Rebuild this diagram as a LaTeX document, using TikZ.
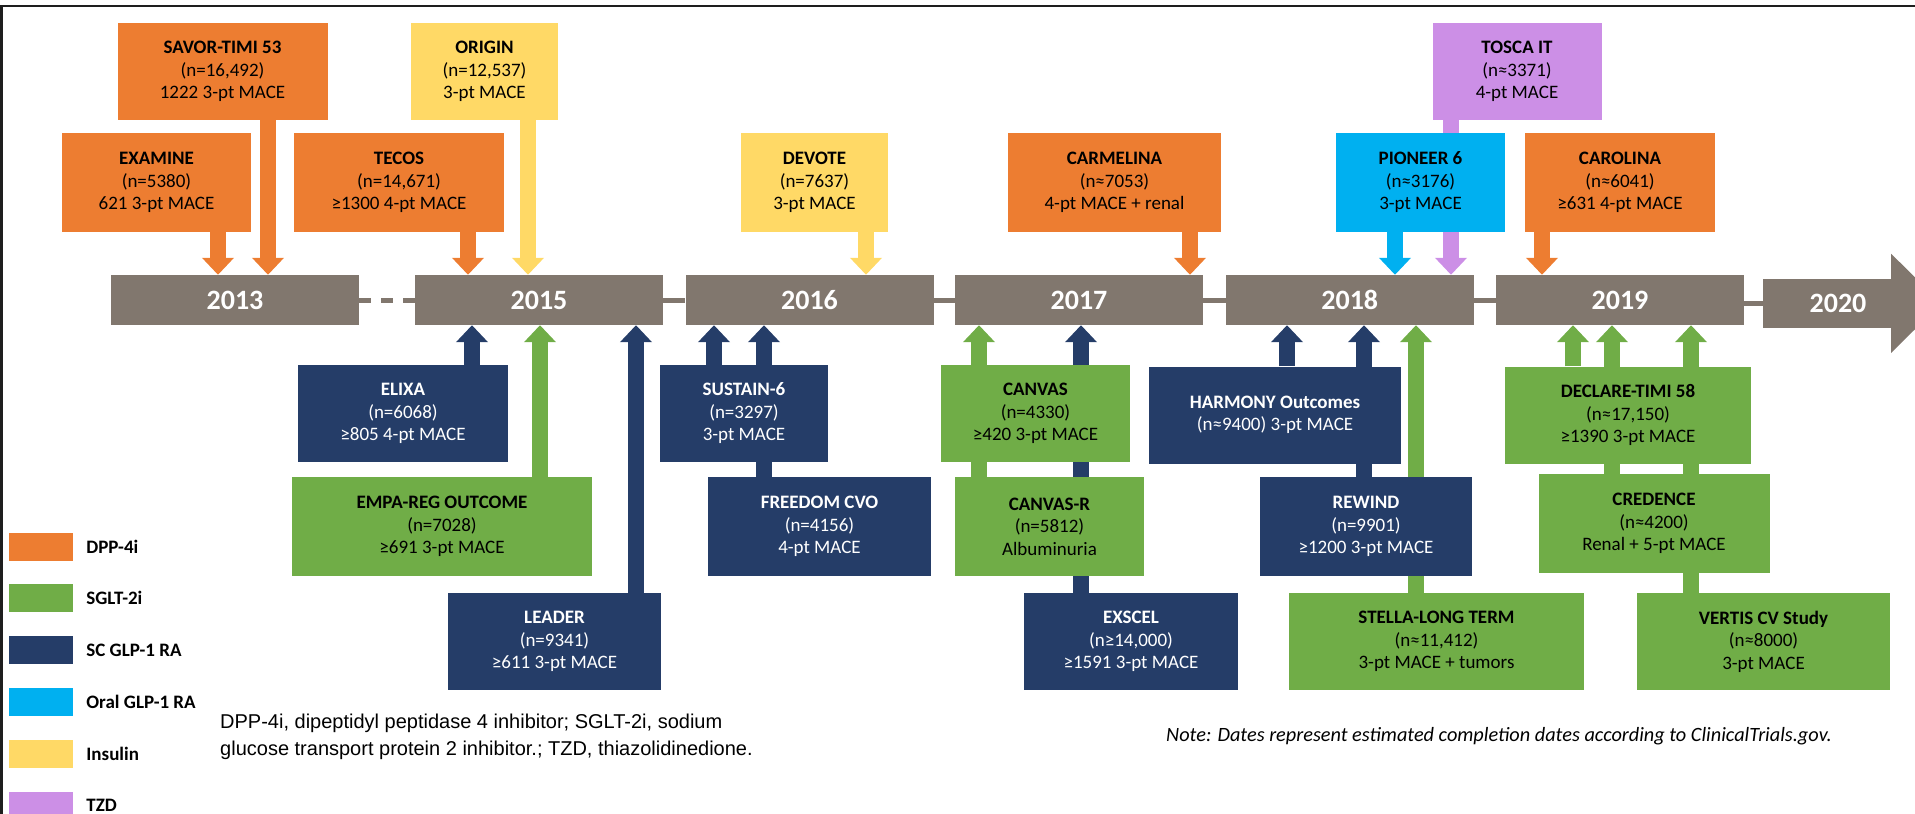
\documentclass[tikz,border=0pt]{standalone}
\usepackage{fontspec}
\setmainfont{Carlito}
\newfontfamily\arialfont{Liberation Sans}
\usetikzlibrary{arrows.meta,backgrounds,positioning}

\definecolor{dppcol}{RGB}{237,125,49}
\definecolor{sgltcol}{RGB}{112,173,71}
\definecolor{sccol}{RGB}{37,61,104}
\definecolor{oralcol}{RGB}{0,176,240}
\definecolor{inscol}{RGB}{255,217,102}
\definecolor{tzdcol}{RGB}{204,143,230}
\definecolor{bargray}{RGB}{129,119,110}
\definecolor{framecol}{RGB}{30,30,30}

\begin{document}
\begin{tikzpicture}[x=1pt, y=-1pt,
    trial/.style={rectangle, inner sep=0pt, align=center, minimum height=97pt, font=\fontsize{19}{22.5}\selectfont},
    dpp/.style={trial, fill=dppcol},
    sglt/.style={trial, fill=sgltcol},
    scglp/.style={trial, fill=sccol, text=white},
    oralglp/.style={trial, fill=oralcol},
    insulin/.style={trial, fill=inscol},
    tzd/.style={trial, fill=tzdcol},
    yearbar/.style={rectangle, fill=bargray, inner sep=0pt, minimum width=248pt, minimum height=50pt, text=white, font=\fontsize{28}{30}\selectfont\bfseries},
    link/.style={bargray, line width=5pt},
    feed/.style={line width=16pt, -{Triangle[length=17pt, width=31pt]}},
    legsq/.style={rectangle, inner sep=0pt, minimum width=64pt, minimum height=28pt},
    leglab/.style={inner sep=0pt, font=\fontsize{19}{22}\selectfont\bfseries}
]
    % Fix the page to the size of the reference
    \useasboundingbox (0,0) rectangle (1915,814);

    % Year bars of the timeline
    \foreach \yr/\xc in {13/235, 15/539, 16/809.5, 17/1079, 18/1349.75, 19/1620} {
        \node[yearbar] (y\yr) at (\xc,300) {20\yr};
    }
    \node[yearbar, minimum width=128pt, minimum height=49pt] (y20) at (1827,303.5) {\hspace*{22pt}2020};
    \fill[bargray] (y20.north east) -- ++(0,-25) -- ++(50,49.5) -- ++(-50,49.5) -- (y20.south east) -- cycle;

    % Trials above the timeline
    \node[dpp, minimum width=210pt] (savor) at (222.5,71.5) {\textbf{SAVOR-TIMI 53}\\(n=16,492)\\1222 3-pt MACE};
    \node[insulin, minimum width=147pt] (origin) at (484.5,71.5) {\textbf{ORIGIN}\\(n=12,537)\\3-pt MACE};
    \node[tzd, minimum width=169pt] (tosca) at (1517,71.5) {\textbf{TOSCA IT}\\(n≈3371)\\4-pt MACE};
    \node[dpp, minimum width=189pt, minimum height=99pt] (examine) at (156.5,182.5) {\textbf{EXAMINE}\\(n=5380)\\621 3-pt MACE};
    \node[dpp, minimum width=210pt, minimum height=99pt] (tecos) at (399,182.5) {\textbf{TECOS}\\(n=14,671)\\≥1300 4-pt MACE};
    \node[insulin, minimum width=147pt, minimum height=99pt] (devote) at (814.5,182.5) {\textbf{DEVOTE}\\(n=7637)\\3-pt MACE};
    \node[dpp, minimum width=213pt, minimum height=99pt] (carmelina) at (1114.5,182.5) {\textbf{CARMELINA}\\(n≈7053)\\4-pt MACE + renal};
    \node[oralglp, minimum width=169pt, minimum height=99pt] (pioneer) at (1420.5,182.5) {\textbf{PIONEER 6}\\(n≈3176)\\3-pt MACE};
    \node[dpp, minimum width=190pt, minimum height=99pt] (carolina) at (1620,182.5) {\textbf{CAROLINA}\\(n≈6041)\\≥631 4-pt MACE};

    % Trials below the timeline
    \node[scglp, minimum width=210pt] (elixa) at (403,413.5) {\textbf{ELIXA}\\(n=6068)\\≥805 4-pt MACE};
    \node[scglp, minimum width=168pt] (sustain) at (744,413.5) {\textbf{SUSTAIN-6}\\(n=3297)\\3-pt MACE};
    \node[sglt, minimum width=189pt] (canvas) at (1035.5,413.5) {\textbf{CANVAS}\\(n=4330)\\≥420 3-pt MACE};
    \node[scglp, minimum width=252pt] (harmony) at (1275,415) {\textbf{HARMONY Outcomes}\\(n≈9400) 3-pt MACE};
    \node[sglt, minimum width=246pt] (declare) at (1628,415) {\textbf{DECLARE-TIMI 58}\\(n≈17,150)\\≥1390 3-pt MACE};
    \node[sglt, minimum width=300pt, minimum height=99pt] (empa) at (442,526.5) {\textbf{EMPA-REG OUTCOME}\\(n=7028)\\≥691 3-pt MACE};
    \node[scglp, minimum width=223pt, minimum height=99pt] (freedom) at (819.5,526.5) {\textbf{FREEDOM CVO}\\(n=4156)\\4-pt MACE};
    \node[sglt, minimum width=189pt, minimum height=99pt] (canvasr) at (1049.5,526.5) {\textbf{CANVAS-R}\\(n=5812)\\Albuminuria};
    \node[scglp, minimum width=212pt, minimum height=99pt] (rewind) at (1366,526.5) {\textbf{REWIND}\\(n=9901)\\≥1200 3-pt MACE};
    \node[sglt, minimum width=231pt, minimum height=99pt] (credence) at (1654,523.5) {\textbf{CREDENCE}\\(n≈4200)\\Renal + 5-pt MACE};
    \node[scglp, minimum width=213pt] (leader) at (554.5,641.5) {\textbf{LEADER}\\(n=9341)\\≥611 3-pt MACE};
    \node[scglp, minimum width=214pt] (exscel) at (1131,641.5) {\textbf{EXSCEL}\\(n≥14,000)\\≥1591 3-pt MACE};
    \node[sglt, minimum width=295pt] (stella) at (1436.5,641.5) {\textbf{STELLA-LONG TERM}\\(n≈11,412)\\3-pt MACE + tumors};
    \node[sglt, minimum width=253pt] (vertis) at (1763.5,641.5) {\textbf{VERTIS CV Study}\\(n≈8000)\\3-pt MACE};

    % Arrows and links go behind the boxes
    \begin{pgfonlayer}{background}
        \draw[link, dash pattern=on 12pt off 10pt] (y13.east) -- (y15.west);
        \foreach \a/\b in {15/16, 16/17, 17/18, 18/19} {
            \draw[link] (y\a.east) -- (y\b.west);
        }
        \draw[link] (y20.west -| y19.east) -- (y20.west);
        % down to the bar
        \foreach \xa/\src/\dst/\col in {218/examine/y13/dppcol, 268/savor/y13/dppcol, 468/tecos/y15/dppcol, 528/origin/y15/inscol, 866/devote/y16/inscol, 1190/carmelina/y17/dppcol, 1395/pioneer/y18/oralcol, 1451/tosca/y18/tzdcol, 1542/carolina/y19/dppcol} {
            \draw[feed, \col] (\xa,0 |- \src.south) -- (\xa,0 |- \dst.north);
        }
        % up to the bar
        \foreach \xa/\src/\dst/\col in {472/elixa/y15/sccol, 540/empa/y15/sgltcol, 636/leader/y15/sccol, 714/sustain/y16/sccol, 764/freedom/y16/sccol, 979/canvasr/y17/sgltcol, 1081/exscel/y17/sccol, 1287/harmony/y18/sccol, 1364/rewind/y18/sccol, 1416/stella/y18/sgltcol, 1573/declare/y19/sgltcol, 1612/credence/y19/sgltcol, 1691/vertis/y19/sgltcol} {
            \draw[feed, \col] (\xa,0 |- \src.north) -- (\xa,0 |- \dst.south);
        }
    \end{pgfonlayer}

    % Legend of the drug classes
    \foreach \lab/\col [count=\i from 0] in {DPP-4i/dppcol, SGLT-2i/sgltcol, SC GLP-1 RA/sccol, Oral GLP-1 RA/oralcol, Insulin/inscol, TZD/tzdcol} {
        \node[legsq, fill=\col] (sq\i) at (41,{546.5+51.8*\i}) {};
        \node[leglab, right=13pt of sq\i] (lab\i) {\lab};
    }

    % Notes under the timeline
    \node[anchor=west, align=left, inner sep=0pt, font=\arialfont\fontsize{20}{27}\selectfont] (abbrev) at (220,737) {DPP-4i, dipeptidyl peptidase 4 inhibitor; SGLT-2i, sodium\\glucose transport protein 2 inhibitor.; TZD, thiazolidinedione.};
    \node[anchor=west, inner sep=0pt, font=\itshape\fontsize{20.3}{22}\selectfont] (note) at (1166,736) {Note: Dates represent estimated completion dates according to ClinicalTrials.gov.};

    % Frame on top and left
    \draw[framecol, line width=2.5pt] (1.5,814) -- (1.5,6) -- (1915,6);
\end{tikzpicture}
\end{document}
